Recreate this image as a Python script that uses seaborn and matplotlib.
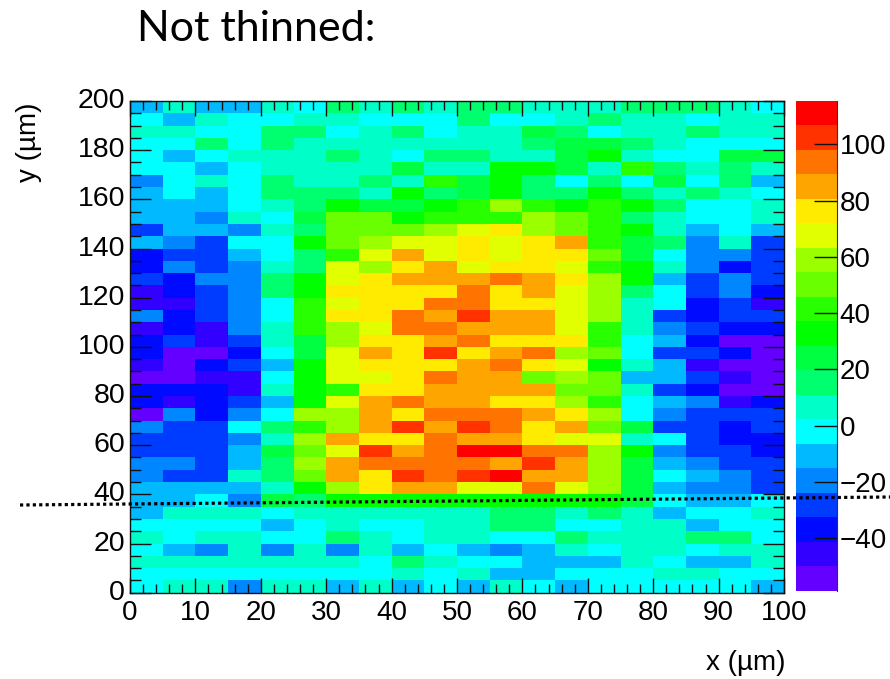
import pandas as pd
import matplotlib
matplotlib.use("Agg")
import matplotlib.pyplot as plt
from matplotlib.colors import ListedColormap
from matplotlib.lines import Line2D
import seaborn as sns

W, H = 890, 679

# bin edges in um
x_edges = list(range(0, 105, 5))
y_top_edges = list(range(200, -5, -5))

z_rows = [
    [-11, 7, -11, -11, 7, -2, 15, 7, 15, 7, 15, 15, 7, 7, 7, 15, 15, 15, 7, -2],
    [-2, -11, 7, -2, -2, 7, 7, -2, -2, -2, 15, -2, -2, 7, 15, 7, 7, -2, 7, 7],
    [7, 7, -2, -2, 15, 15, -2, 7, 15, -2, 7, 7, 24, 15, -2, 7, 7, 15, 7, 7],
    [-2, -2, 15, -2, 15, 7, 7, 7, 7, 7, 7, 7, 15, 24, 24, 15, 7, -2, -2, -2],
    [-2, -11, -2, 7, 7, 7, 15, 7, -2, 15, 15, 7, 7, 24, 33, 7, -2, -2, 24, 24],
    [-2, -2, -11, -2, 7, 7, 7, 7, 24, 7, 7, 33, 33, 24, 7, 41, 15, 7, 15, 7],
    [-20, -2, 7, -2, 15, 7, 7, 15, 7, 41, 24, 33, 15, -2, 15, -2, 24, -2, 15, -11],
    [-11, -2, -11, -2, 15, 15, 15, 7, 33, 15, 24, 33, 15, 15, 33, 15, 7, 15, 7, -2],
    [-11, -11, -11, -2, 7, 15, 33, 24, 24, 33, 41, 59, 41, 33, 41, 33, 15, -2, -2, 7],
    [-11, -11, -20, 7, -2, 24, 50, 50, 33, 41, 41, 41, 59, 50, 41, 15, 7, -2, -2, 7],
    [-28, -11, -11, -20, 7, 15, 50, 50, 50, 59, 68, 76, 59, 50, 41, 33, 7, -11, -2, -11],
    [-11, -20, -28, -2, -2, 33, 50, 59, 68, 68, 76, 68, 76, 85, 41, 24, 15, -20, 7, -28],
    [-37, -28, -28, -11, -2, 15, 41, 68, 85, 68, 76, 68, 76, 76, 50, 24, -2, -20, -20, -28],
    [-37, -20, -28, -20, 7, 15, 68, 59, 76, 85, 68, 76, 76, 68, 41, 33, 7, -20, -37, -28],
    [-28, -37, -20, -20, 15, 33, 68, 76, 85, 85, 85, 94, 85, 76, 59, 33, -11, -28, -20, -28],
    [-46, -37, -28, -20, 15, 33, 76, 76, 76, 76, 94, 76, 85, 68, 59, 15, -2, -28, -20, -37],
    [-46, -46, -28, -20, -2, 41, 68, 76, 76, 94, 94, 76, 76, 68, 59, 7, -2, -37, -28, -46],
    [-20, -37, -28, -20, -2, 41, 76, 76, 94, 85, 102, 85, 85, 68, 59, 7, -28, -37, -28, -28],
    [-46, -37, -46, -20, 7, 41, 59, 68, 94, 94, 85, 85, 85, 68, 41, 7, -20, -28, -37, -37],
    [-37, -28, -46, -28, 7, 24, 59, 76, 76, 85, 94, 76, 76, 76, 41, -2, -11, -37, -54, -54],
    [-37, -54, -54, -37, -2, 24, 68, 85, 76, 102, 76, 85, 94, 59, 50, -2, -28, -28, -37, -54],
    [-46, -54, -37, -28, -11, 33, 68, 76, 76, 76, 85, 94, 76, 68, 33, 7, -11, -46, -54, -54],
    [-54, -54, -46, -46, -2, 33, 68, 68, 76, 94, 85, 85, 50, 59, 50, -11, -11, -28, -46, -54],
    [-37, -37, -37, -46, 7, 33, 41, 76, 76, 85, 85, 85, 85, 50, 50, 7, -28, -37, -54, -54],
    [-37, -46, -37, -28, -11, 33, 68, 85, 94, 85, 85, 76, 76, 59, 41, -2, -11, -20, -46, -37],
    [-54, -20, -37, -20, -2, 59, 59, 85, 76, 94, 94, 94, 85, 76, 59, -2, -20, -28, -28, -28],
    [-20, -28, -28, -2, 15, 41, 59, 85, 102, 85, 102, 94, 76, 85, 50, 24, -28, -28, -37, -28],
    [-28, -28, -28, -20, 7, 59, 85, 76, 76, 94, 85, 85, 76, 68, 68, 7, -2, -28, -37, -37],
    [-28, -28, -28, -11, 24, 50, 68, 102, 85, 94, 111, 111, 94, 94, 59, 33, -20, -28, -28, -37],
    [-20, -20, -28, -11, 15, 59, 85, 94, 94, 94, 94, 85, 102, 85, 59, 24, -11, -20, -28, -28],
    [-20, -28, -28, 7, 15, 50, 85, 76, 102, 94, 102, 111, 85, 85, 59, 24, -2, -11, -20, -28],
    [-11, -11, -11, -11, 7, 33, 59, 76, 85, 85, 68, 68, 94, 68, 59, 24, -11, -20, -20, -28],
    [-11, -11, -2, -20, 24, 15, 33, 33, 33, 33, 33, 33, 33, 33, 33, 24, -2, -11, -11, -2],
    [-11, 7, 7, 7, -2, 7, 7, 7, 7, 7, 7, 15, 15, 7, 15, 7, -11, -2, -2, 7],
    [-2, -2, -2, -2, -11, -2, 7, -2, -2, 7, 7, 15, 15, -2, -2, 7, 7, -11, -2, -2],
    [7, -2, 7, 7, -2, -2, 15, 7, -2, 7, 7, -2, -2, 15, 7, 7, 7, 15, 15, -2],
    [-2, -11, -20, 7, -20, 7, -20, 7, -11, -2, -11, -20, -11, 7, -2, 7, 7, -2, 7, 7],
    [7, 7, 7, 7, 7, 7, 7, -2, 15, 7, -2, -2, -11, -11, -11, 7, -2, -11, -11, 7],
    [-2, -2, -2, -2, -2, -2, -2, -2, 7, -2, 7, -11, -11, -2, -2, -2, 7, 7, -2, -2],
    [-2, 7, 7, -20, 7, 7, -11, 7, -11, -2, -11, 7, -2, -11, -2, -2, -2, -2, -2, -11],
]

# ROOT rainbow palette, 20 levels
band_colors = ["#6400ff", "#3200ff", "#000aff", "#003cff", "#0087ff", "#00b9ff", "#00ffff",
               "#00ffc8", "#00ff6e", "#00ff41", "#00ff00", "#28ff00", "#69ff00", "#9bff00",
               "#e1ff00", "#ffeb00", "#ffa500", "#ff7300", "#ff3200", "#ff0000"]
z_min, z_max = -58.7, 115.5

x_ticks = list(range(0, 101, 10))
x_minor = list(range(0, 101, 2))
y_ticks = list(range(0, 201, 20))
y_minor = list(range(0, 201, 5))
cbar_ticks = [-40, -20, 0, 20, 40, 60, 80, 100]


def px(n):
    # pixels to points at dpi 100
    return n * 72 / 100


sns.set_style("white")
plt.rcParams['font.family'] = ['Liberation Sans', 'DejaVu Sans']
plt.rcParams['text.color'] = 'black'
plt.rcParams['xtick.color'] = 'black'
plt.rcParams['ytick.color'] = 'black'

fig = plt.figure(figsize=(W / 100, H / 100), dpi=100)
ax = fig.add_axes([130 / W, 1 - 592.7 / H, 654 / W, 491.7 / H])
cax = fig.add_axes([795.7 / W, 1 - 590.7 / H, 41 / W, 490 / H])

# table with top row first, like the heatmap wants it
df = pd.DataFrame(z_rows, index=y_top_edges[:-1], columns=x_edges[:-1])
sns.heatmap(df, ax=ax, cbar_ax=cax, cmap=ListedColormap(band_colors), vmin=z_min, vmax=z_max,
            cbar_kws={'ticks': cbar_ticks})

# heatmap works in cell units, so convert um to cells
ax.set_xticks([v / 5 for v in x_ticks])
ax.set_xticklabels([str(v) for v in x_ticks], rotation=0, fontsize=20)
ax.set_xticks([v / 5 for v in x_minor], minor=True)
ax.set_yticks([(200 - v) / 5 for v in y_ticks])
ax.set_yticklabels([str(v) for v in y_ticks], rotation=0, fontsize=20.5)
ax.set_yticks([(200 - v) / 5 for v in y_minor], minor=True)

# ticks sit on top of the cells
ax.set_axisbelow(False)
cax.set_axisbelow(False)
ax.tick_params(axis='x', which='major', direction='in', top=True, bottom=True, length=px(15), width=1, pad=5, color='#111111')
ax.tick_params(axis='x', which='minor', direction='in', top=True, bottom=True, length=px(9), width=1, color='#111111')
ax.tick_params(axis='y', which='major', direction='in', left=True, right=True, length=px(21), width=1, pad=3.5, color='#111111')
ax.tick_params(axis='y', which='minor', direction='in', left=True, right=True, length=px(11), width=1, color='#111111')
ax.set_xlabel('')
ax.set_ylabel('')
for s in ax.spines.values():
    s.set_visible(True)
    s.set_color('#111111')
    s.set_linewidth(1)
    s.set_zorder(5)

# colour bar
cbar = ax.collections[0].colorbar
cbar.outline.set_visible(False)
cax.spines['right'].set_visible(True)
cax.spines['right'].set_color('#333333')
cax.set_yticklabels([str(v).replace('-', '\u2212') for v in cbar_ticks])
cax.tick_params(axis='y', direction='in', right=True, left=False, length=px(23), width=1, pad=2, labelsize=20, color='#111111')

fig.text(137 / W, 1 - 41 / H, 'Not thinned:', fontsize=31, family=['Lato', 'DejaVu Sans'], color='black')
fig.text(786 / W, 1 - 670 / H, 'x (\u00b5m)', fontsize=20, ha='right', va='baseline')
fig.text(29.5 / W, 1 - 102 / H, 'y (\u00b5m)', fontsize=20, rotation=90, ha='center', va='top')

# dotted guide line across the figure
fig.add_artist(Line2D([20 / W, 1], [1 - 505 / H, 1 - 497 / H], transform=fig.transFigure,
                      color='black', lw=2.3, linestyle=(0, (1, 1.0))))

fig.savefig('out.png', dpi=100)
